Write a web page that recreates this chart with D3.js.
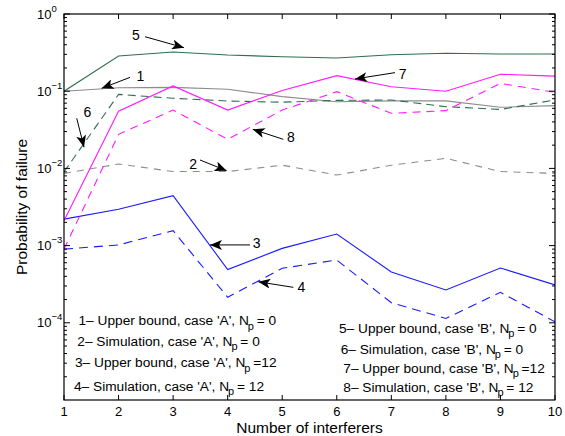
<!DOCTYPE html>
<html><head><meta charset="utf-8">
<script src="https://cdn.jsdelivr.net/npm/d3@7"></script>
<style>
body{margin:0;background:#fff;}
svg{display:block;font-family:"Liberation Sans",Arial,Helvetica,sans-serif;}
</style></head>
<body><svg id="c" width="565" height="436"></svg>
<script>
// ---- data ----
const interferers = [1,2,3,4,5,6,7,8,9,10];
const ubA0  = [0.1, 0.111, 0.112, 0.106, 0.085, 0.073, 0.075, 0.075, 0.062, 0.065];
const simA0 = [0.0086, 0.0114, 0.0091, 0.0091, 0.011, 0.0082, 0.011, 0.0135, 0.0091, 0.0086];
const ubA12 = [0.0022, 0.00295, 0.00443, 0.00049, 0.00092, 0.00141, 0.000455, 0.000266, 0.000513, 0.00031];
const simA12= [0.0009, 0.00102, 0.00156, 0.000214, 0.000508, 0.00065, 0.000182, 0.000114, 0.000248, 0.000103];
const ubB0  = [0.1, 0.286, 0.322, 0.294, 0.28, 0.269, 0.297, 0.31, 0.303, 0.303];
const simB0 = [0.009, 0.091, 0.081, 0.0746, 0.072, 0.076, 0.077, 0.063, 0.058, 0.077];
const ubB12 = [0.0021, 0.055, 0.117, 0.057, 0.102, 0.159, 0.114, 0.1, 0.166, 0.157];
const simB12= [0.0009, 0.0276, 0.057, 0.0238, 0.057, 0.0985, 0.0517, 0.056, 0.126, 0.097];
const xTicks = [1,2,3,4,5,6,7,8,9,10];
const yTickExp = [0,-1,-2,-3,-4];
const legendLeft = [
  ["1\u2013 Upper bound, case 'A', N"," = 0"],
  ["2\u2013 Simulation, case 'A', N"," = 0"],
  ["3\u2013 Upper bound, case 'A', N"," =12"],
  ["4\u2013 Simulation, case 'A', N"," = 12"]];
const legendRight = [
  ["5\u2013 Upper bound, case 'B', N"," = 0"],
  ["6\u2013 Simulation, case 'B', N"," = 0"],
  ["7\u2013 Upper bound, case 'B', N"," =12"],
  ["8\u2013 Simulation, case 'B', N"," = 12"]];
// annotation arrows: label position, tail, head (data coordinates)
const annLabels = ["5","1","6","2","8","7","3","4"];
const annLabelPos = [[2.32,0.535],[2.40,0.157],[1.427,0.0542],[3.365,0.0114],[5.161,0.0253],[7.208,0.1656],[4.532,0.00108],[5.353,0.000291]];
const annTail = [[2.485,0.508],[2.21,0.151],[1.233,0.0446],[3.493,0.01285],[5.02,0.0238],[7.067,0.174],[4.409,0.00102],[5.203,0.000288]];
const annHead = [[3.2,0.366],[1.69,0.109],[1.367,0.0188],[3.982,0.00933],[4.459,0.0321],[6.334,0.144],[3.676,0.00102],[4.561,0.00034]];

const series = [
  {v:ubA0,  color:"#8c8c8c", dash:null},
  {v:simA0, color:"#8c8c8c", dash:"7,6"},
  {v:ubA12, color:"#1a1aff", dash:null},
  {v:simA12,color:"#1a1aff", dash:"9,6"},
  {v:ubB0,  color:"#2f6e50", dash:null},
  {v:simB0, color:"#2f6e50", dash:"8,5"},
  {v:ubB12, color:"#ff1aff", dash:null},
  {v:simB12,color:"#ff1aff", dash:"8,6"}
];

// ---- layout ----
const L=64, R=555, T=14, B=400;
const svg = d3.select("#c");
const x = d3.scaleLinear().domain([1,10]).range([L,R]);
const y = d3.scaleLog().domain([1e-5,1]).range([B,T]);

svg.append("clipPath").attr("id","clip").append("rect")
  .attr("x",L).attr("y",T).attr("width",R-L).attr("height",B-T);

const line = d3.line().x((d,i)=>x(interferers[i])).y(d=>y(d));
const g = svg.append("g").attr("clip-path","url(#clip)");
series.forEach(s=>{
  g.append("path").datum(s.v).attr("d",line)
    .attr("fill","none").attr("stroke",s.color).attr("stroke-width",1.1)
    .attr("stroke-dasharray",s.dash);
});

svg.append("rect").attr("x",L).attr("y",T).attr("width",R-L).attr("height",B-T)
  .attr("fill","none").attr("stroke","#000").attr("stroke-width",1.2);

const ax = svg.append("g");
xTicks.forEach(t=>{
  ax.append("line").attr("x1",x(t)).attr("x2",x(t)).attr("y1",B).attr("y2",B-5).attr("stroke","#000");
  ax.append("line").attr("x1",x(t)).attr("x2",x(t)).attr("y1",T).attr("y2",T+5).attr("stroke","#000");
  ax.append("text").attr("x",x(t)).attr("y",B+16).attr("text-anchor","middle")
    .attr("font-size",13).text(t);
});
const yMinor = [];
for(let e=-5;e<0;e++){ for(let m=2;m<=9;m++) yMinor.push(m*Math.pow(10,e)); }
yMinor.forEach(v=>{
  ax.append("line").attr("x1",L).attr("x2",L+3).attr("y1",y(v)).attr("y2",y(v)).attr("stroke","#000");
  ax.append("line").attr("x1",R).attr("x2",R-3).attr("y1",y(v)).attr("y2",y(v)).attr("stroke","#000");
});
yTickExp.forEach(e=>{
  const v=Math.pow(10,e);
  ax.append("line").attr("x1",L).attr("x2",L+6).attr("y1",y(v)).attr("y2",y(v)).attr("stroke","#000");
  ax.append("line").attr("x1",R).attr("x2",R-6).attr("y1",y(v)).attr("y2",y(v)).attr("stroke","#000");
  const tx = ax.append("text").attr("x",L-27).attr("y",y(v)+4.5).attr("font-size",13);
  tx.append("tspan").text("10");
  tx.append("tspan").attr("dy",-7).attr("font-size",9.5).text(e===0?"0":"\u2212"+(-e));
});

svg.append("text").attr("x",(L+R)/2).attr("y",433).attr("text-anchor","middle")
  .attr("font-size",15.5).text("Number of interferers");
svg.append("text").attr("transform",`translate(27,${(T+B)/2}) rotate(-90)`)
  .attr("text-anchor","middle").attr("font-size",15.5).text("Probability of failure");

svg.append("defs").append("marker").attr("id","ah").attr("viewBox","0 0 12 10")
  .attr("refX",12).attr("refY",5).attr("markerWidth",12).attr("markerHeight",10)
  .attr("markerUnits","userSpaceOnUse").attr("orient","auto")
  .append("path").attr("d","M0,0 L12,5 L0,10 L3,5 Z").attr("fill","#000");
annLabels.forEach((lab,i)=>{
  svg.append("line").attr("x1",x(annTail[i][0])).attr("y1",y(annTail[i][1]))
    .attr("x2",x(annHead[i][0])).attr("y2",y(annHead[i][1]))
    .attr("stroke","#000").attr("stroke-width",1).attr("marker-end","url(#ah)");
  svg.append("text").attr("x",x(annLabelPos[i][0])).attr("y",y(annLabelPos[i][1])+5)
    .attr("text-anchor","middle").attr("font-size",14).text(lab);
});

function legendBlock(items, xs, ys){
  items.forEach((it,i)=>{
    const t = svg.append("text").attr("x",xs[i]).attr("y",ys[i]).attr("font-size",13.7);
    t.append("tspan").text(it[0]);
    t.append("tspan").attr("dy",4.5).attr("dx",-1).attr("font-size",11).text("p");
    t.append("tspan").attr("dy",-4.5).attr("dx",-1).text(it[1]);
  });
}
legendBlock(legendLeft, [L+14.5,L+13.3,L+11,L+10], [B-75,B-54.5,B-33,B-9.5]);
legendBlock(legendRight, [L+275,L+276.7,L+279.3,L+279.3], [B-67.5,B-46.5,B-27.5,B-8.5]);
</script></body></html>
